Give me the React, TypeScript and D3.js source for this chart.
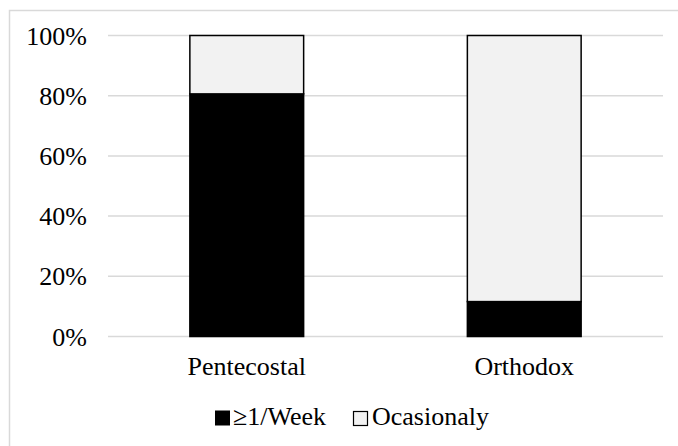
import React from "react";
import * as d3 from "d3";

// Attendance frequency by denomination (share of respondents, %)
const categories = ["Pentecostal", "Orthodox"];
const weekly = [80.6, 11.6];
const occasional = [19.4, 88.4];
const seriesNames = ["≥1/Week", "Ocasionaly"];
const yTicks = [0, 20, 40, 60, 80, 100];

const W = 678;
const H = 446;
const FONT = "Liberation Serif, Times New Roman, Times, DejaVu Serif, serif";
const GRID = "#d9d9d9";
const LIGHT = "#f2f2f2";
const textStyle: React.CSSProperties = { fontFamily: FONT, fontSize: 26 };

export default function App() {
  const x = d3
    .scaleBand<string>()
    .domain(categories)
    .range([108, 663])
    .paddingInner(0.59)
    .paddingOuter(0.295);
  const y = d3.scaleLinear().domain([0, 100]).range([336.5, 35.5]);

  const rows = categories.map((c, i) => ({
    cat: c,
    weekly: weekly[i],
    occasional: occasional[i],
  }));
  const stack = d3.stack<any>().keys(["weekly", "occasional"])(rows);
  const fills = ["#000000", LIGHT];

  return (
    <svg
      width={W}
      height={H}
      style={{ position: "absolute", left: 0, top: 0, background: "#fff" }}
    >
      <rect x={0} y={0} width={W} height={H} fill="#fff" />
      {/* chart frame */}
      <rect
        x={9.5}
        y={10.5}
        width={W + 20}
        height={H + 20}
        fill="none"
        stroke={GRID}
        strokeWidth={1.5}
      />
      {/* gridlines and y labels */}
      {yTicks.map((t) => (
        <g key={t}>
          <line
            x1={108}
            x2={663}
            y1={y(t)}
            y2={y(t)}
            stroke={GRID}
            strokeWidth={1.5}
          />
          <text
            x={87}
            y={y(t)}
            dy="0.35em"
            textAnchor="end"
            style={textStyle}
            fill="#000"
          >
            {t}%
          </text>
        </g>
      ))}
      {/* stacked bars */}
      {stack.map((layer, li) =>
        layer.map((d, i) => (
          <rect
            key={`${li}-${i}`}
            x={x(categories[i])!}
            y={y(d[1])}
            width={x.bandwidth()}
            height={y(d[0]) - y(d[1])}
            fill={fills[li]}
            stroke="#000"
            strokeWidth={1.5}
          />
        ))
      )}
      {/* category labels */}
      {categories.map((c) => (
        <text
          key={c}
          x={x(c)! + x.bandwidth() / 2}
          y={375}
          textAnchor="middle"
          style={textStyle}
          fill="#000"
        >
          {c}
        </text>
      ))}
      {/* legend */}
      <g>
        <rect x={215.5} y={411} width={14} height={14} fill="#000" stroke="#000" />
        <text x={233} y={425} style={textStyle} fill="#000">
          {seriesNames[0]}
        </text>
        <rect
          x={353.5}
          y={411.5}
          width={14}
          height={14}
          fill={LIGHT}
          stroke="#000"
          strokeWidth={1.2}
        />
        <text x={372} y={425} style={textStyle} fill="#000">
          {seriesNames[1]}
        </text>
      </g>
    </svg>
  );
}
